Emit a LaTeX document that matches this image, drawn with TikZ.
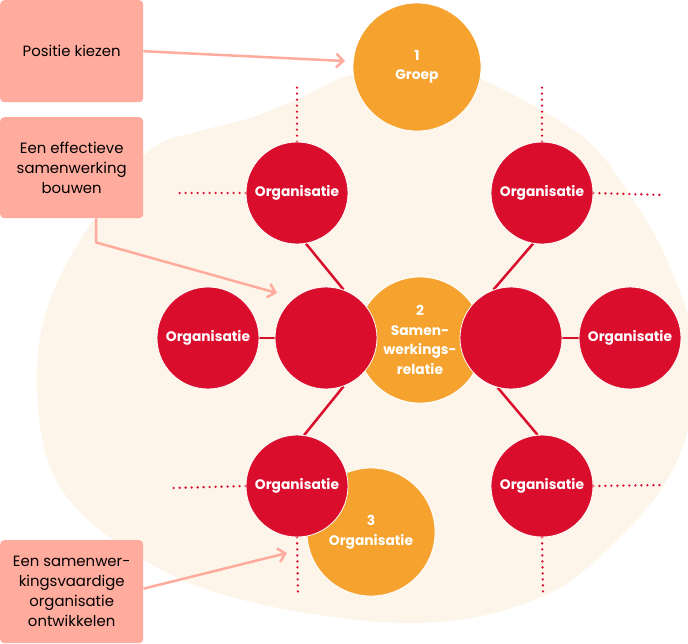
\documentclass[tikz,border=0pt]{standalone}
\usepackage{fontspec}
\setmainfont{Poppins}
\usetikzlibrary{arrows.meta}

\definecolor{orgred}{HTML}{DA0D2C}
\definecolor{groeporange}{HTML}{F5A22F}
\definecolor{blobcream}{HTML}{FEF5EA}
\definecolor{boxsalmon}{HTML}{FFAB9D}

\pgfdeclarelayer{blob}
\pgfdeclarelayer{links}
\pgfsetlayers{blob,links,main}

\begin{document}
\begin{tikzpicture}[x=1pt, y=-1pt, line join=round,
    org/.style={circle, fill=orgred, draw=white, line width=0.8pt, minimum size=102pt, inner sep=0pt,
        text=white, font=\fontsize{13.8}{16}\selectfont\bfseries, align=center},
    level/.style={circle, fill=groeporange, draw=white, line width=0.8pt, minimum size=128pt, inner sep=0pt,
        text=white, font=\fontsize{13.8}{19.5}\selectfont\bfseries, align=center},
    stapbox/.style={rectangle, rounded corners=4pt, fill=boxsalmon, minimum width=143pt, minimum height=102pt,
        inner sep=0pt, anchor=north west, font=\fontsize{14.9}{20}\selectfont, align=center},
    spoke/.style={orgred, line width=2.5pt},
    dots/.style={orgred, line width=2.6pt, line cap=round, dash pattern=on 0pt off 6pt},
    pointer/.style={boxsalmon, line width=2.5pt, -{Straight Barb[length=7pt, width=14pt]}}]

    \useasboundingbox (0,0) rectangle (688,643);

    % achtergrond
    \begin{pgfonlayer}{blob}
        \fill[blobcream] plot[smooth cycle, tension=0.6] coordinates {
            (37,377) (50,300) (93,220) (150,150) (200,131) (250,118) (300,98) (350,75)
            (417,62) (483,80) (583,137) (633,200) (667,260) (694,340) (692,413)
            (667,480) (617,540) (550,593) (450,621) (333,617) (200,587) (100,530) (50,467)};
    \end{pgfonlayer}

    % niveaus
    \node[level] (groep) at (417,67) {1\\Groep};
    \node[level, minimum size=126pt] (relatie) at (420,340) {2\\Samen-\\werkings-\\relatie};
    \node[level] (eigen) at (371,532) {3\\Organisatie};

    % organisaties
    \node[org] (orgTL) at (297,193) {Organisatie};
    \node[org] (orgTR) at (542,193) {Organisatie};
    \node[org] (orgL) at (208,338) {Organisatie};
    \node[org] (innerL) at (326,338) {};
    \node[org] (innerR) at (511,338) {};
    \node[org] (orgR) at (630,338) {Organisatie};
    \node[org] (orgBL) at (297,486) {Organisatie};
    \node[org] (orgBR) at (542,486) {Organisatie};

    % stappen
    \node[stapbox] (stap1) at (0,0) {Positie kiezen};
    \node[stapbox, minimum height=101pt] (stap2) at (0,117) {Een effectieve\\samenwerking\\bouwen};
    \node[stapbox, minimum height=103pt] (stap3) at (0,540) {Een samenwer-\\kingsvaardige\\organisatie\\ontwikkelen};

    % eindpunten
    \coordinate (tlUp) at (297,85);
    \coordinate (tlLeft) at (175,193);
    \coordinate (trUp) at (542,85);
    \coordinate (trRight) at (663,195);
    \coordinate (blLeft) at (173,488);
    \coordinate (blDown) at (298,595);
    \coordinate (brRight) at (665,485);
    \coordinate (brDown) at (543,593);
    \coordinate (tipA) at (345,61);
    \coordinate (tipB) at (277,293);
    \coordinate (tipC) at (287,553);

    \begin{pgfonlayer}{links}
        \draw[spoke] (orgTL.-80) -- (innerL.70);
        \draw[spoke] (innerL.-70) -- (orgBL.82);
        \draw[spoke] (orgTR.-100) -- (innerR.110);
        \draw[spoke] (innerR.-105) -- (orgBR.95);
        \draw[spoke] (orgL) -- (innerL);
        \draw[spoke] (innerR) -- (orgR);

        \draw[dots] (orgTL.north) -- (tlUp);
        \draw[dots] (orgTL.west) -- (tlLeft);
        \draw[dots] (orgTR.north) -- (trUp);
        \draw[dots] (orgTR.east) -- (trRight);
        \draw[dots] (orgBL.west) -- (blLeft);
        \draw[dots] (orgBL.south) -- (blDown);
        \draw[dots] (orgBR.east) -- (brRight);
        \draw[dots] (orgBR.south) -- (brDown);
    \end{pgfonlayer}

    \draw[pointer] (stap1.east) -- (tipA);
    \draw[pointer] ([xshift=96pt]stap2.south west) -- ++(0,24) -- (tipB);
    \draw[pointer] ([yshift=3pt]stap3.east) -- (tipC);

\end{tikzpicture}
\end{document}
